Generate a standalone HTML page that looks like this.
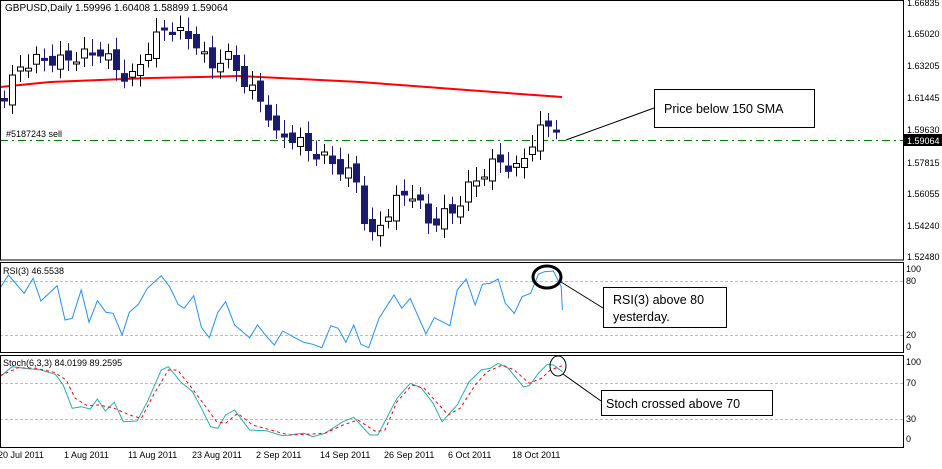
<!DOCTYPE html>
<html><head><meta charset="utf-8"><style>
body{margin:0;background:#fff;width:942px;height:464px;overflow:hidden;font-family:"Liberation Sans",sans-serif}
svg text{font-family:"Liberation Sans",sans-serif}
</style></head><body>
<svg id="s" width="942" height="464" xmlns="http://www.w3.org/2000/svg" font-size="9">
<rect x="0" y="0" width="942" height="464" fill="#fff"/>
<line x1="0" y1="140.5" x2="903" y2="140.5" stroke="#008000" stroke-dasharray="8,4,2,4"/>
<line x1="0" y1="281.5" x2="903" y2="281.5" stroke="#bbb" stroke-dasharray="3,2"/>
<line x1="0" y1="335.5" x2="903" y2="335.5" stroke="#bbb" stroke-dasharray="3,2"/>
<line x1="0" y1="383.5" x2="903" y2="383.5" stroke="#bbb" stroke-dasharray="3,2"/>
<line x1="0" y1="419.5" x2="903" y2="419.5" stroke="#bbb" stroke-dasharray="3,2"/>
<g id="g"></g>
<rect x="0.5" y="0.5" width="903" height="259.5" fill="none" stroke="#000"/>
<rect x="0.5" y="262.5" width="903" height="90" fill="none" stroke="#000"/>
<rect x="0.5" y="355.5" width="903" height="92" fill="none" stroke="#000"/>
<text x="5" y="11" font-size="10">GBPUSD,Daily  1.59996 1.60408 1.58899 1.59064</text>
<text x="6" y="137">#5187243 sell</text>
<text x="3" y="274">RSI(3) 46.5538</text>
<text x="3" y="366">Stoch(6,3,3) 84.0199 89.2595</text>
<g font-size="9">
<text x="907" y="6">1.66835</text><text x="907" y="37">1.65020</text><text x="907" y="69">1.63205</text>
<text x="907" y="101">1.61445</text><text x="907" y="133">1.59630</text>
<rect x="904" y="134" width="38" height="12" fill="#000"/><text x="907" y="144" fill="#fff">1.59064</text>
<text x="907" y="166">1.57815</text><text x="907" y="197">1.56055</text><text x="907" y="229">1.54240</text><text x="907" y="260">1.52480</text>
<text x="906" y="272">100</text><text x="906" y="284">80</text><text x="906" y="338">20</text><text x="906" y="350">0</text>
<text x="906" y="365">100</text><text x="906" y="386">70</text><text x="906" y="422">30</text><text x="906" y="442">0</text>
</g>
<g font-size="9">
<text x="-2" y="458">20 Jul 2011</text><text x="64" y="458">1 Aug 2011</text><text x="128" y="458">11 Aug 2011</text>
<text x="192" y="458">23 Aug 2011</text><text x="256" y="458">2 Sep 2011</text><text x="320" y="458">14 Sep 2011</text>
<text x="384" y="458">26 Sep 2011</text><text x="448" y="458">6 Oct 2011</text><text x="512" y="458">18 Oct 2011</text>
</g>
<line x1="566" y1="140" x2="654" y2="108" stroke="#000"/>
<rect x="654.5" y="89.5" width="160" height="38" fill="#fff" stroke="#000"/>
<text x="664" y="113" font-size="12.5">Price below 150 SMA</text>
<ellipse cx="547" cy="277" rx="14" ry="11" fill="none" stroke="#000" stroke-width="3"/>
<line x1="561" y1="282" x2="603" y2="308" stroke="#000"/>
<rect x="603.5" y="287.5" width="123" height="40" fill="#fff" stroke="#000"/>
<text x="613" y="304" font-size="12.5">RSI(3) above 80</text>
<text x="613" y="321" font-size="12.5">yesterday.</text>
<ellipse cx="558" cy="366" rx="8" ry="10" fill="none" stroke="#000"/>
<line x1="563" y1="374" x2="601" y2="401" stroke="#000"/>
<rect x="601.5" y="390.5" width="171" height="25" fill="#fff" stroke="#000"/>
<text x="606" y="408" font-size="12.5">Stoch crossed above 70</text>
</svg>
<script>
(function(){
var g=document.getElementById('g'),NS='http://www.w3.org/2000/svg';
function el(t,a){var e=document.createElementNS(NS,t);for(var k in a)e.setAttribute(k,a[k]);g.appendChild(e);return e;}
el('polyline',{points:'0,87 50,82 100,80 150,78 200,77 240,76 280,78 320,80 360,82 400,85 440,88 480,91 520,94 562,97',fill:'none',stroke:'#f00','stroke-width':2});
var kp=[[4,95],[20,65],[40,58],[60,60],[100,50],[120,72],[130,80],[150,45],[165,25],[185,35],[195,40],[210,68],[225,52],[245,82],[265,105],[275,135],[290,135],[310,150],[330,160],[345,172],[355,175],[362,210],[370,240],[385,215],[400,195],[410,190],[420,205],[430,225],[440,215],[455,210],[465,190],[475,180],[490,165],[500,160],[515,170],[525,155],[535,135],[545,125],[555,122],[562,140]];
function interp(x){for(var i=1;i<kp.length;i++){if(x<=kp[i][0]){var a=kp[i-1],b=kp[i];return a[1]+(b[1]-a[1])*(x-a[0])/(b[0]-a[0]);}}return kp[kp.length-1][1];}
var prev=interp(0);
for(var x=4;x<=563;x+=8){
 var n=Math.floor(x/8);
 var c=interp(x)+(n%3==0?6:(n%3==1?-5:2));
 var o=prev+(n%2?4:-4);
 var t1=Math.min(o,c),b1=Math.max(o,c);if(b1-t1<2)b1=t1+2;
 var bear=c>o;
 var col=bear?'#1a1a6e':'#000';
 el('line',{x1:x+.5,y1:t1-8-(n%4)*2,x2:x+.5,y2:b1+7+(n%3)*2,stroke:col});
 el('rect',{x:x-3+.5,y:t1,width:6,height:b1-t1,fill:bear?'#1a1a6e':'#fff',stroke:col});
 prev=c;
}
var sx=942/1566;
function pl(pts,attrs){attrs.points=pts.map(function(p){return (p[0]*sx).toFixed(1)+','+(255+p[1]/3).toFixed(1)}).join(' ');attrs.fill='none';el('polyline',attrs);}
pl([[0,100],[14,60],[40,115],[55,70],[68,138],[95,92],[108,195],[120,190],[135,105],[148,202],[162,137],[176,172],[188,175],[203,240],[215,172],[230,148],[245,100],[268,62],[282,95],[296,148],[306,160],[322,122],[335,218],[348,248],[362,172],[375,140],[390,210],[415,248],[428,210],[442,242],[456,270],[470,228],[490,248],[505,262],[520,268],[535,278],[550,212],[562,220],[575,262],[588,210],[600,268],[613,278],[630,190],[655,120],[668,160],[682,130],[708,237],[722,188],[735,200],[748,212],[760,105],[775,72],[790,150],[802,88],[815,85],[828,72],[840,145],[855,175],[868,125],[882,115],[895,58],[905,50],[920,48],[933,95],[935,165]],{stroke:'#1e90ff'});
var K=[[0,365],[20,335],[40,340],[68,345],[92,358],[105,390],[120,460],[135,455],[150,462],[162,432],[175,468],[190,442],[205,500],[228,498],[245,440],[268,345],[280,335],[300,380],[320,410],[335,460],[350,515],[362,520],[375,480],[390,465],[415,525],[442,527],[470,542],[490,538],[505,535],[520,545],[540,535],[570,500],[588,487],[615,540],[628,540],[660,430],[682,385],[700,398],[720,445],[735,500],[760,450],[780,380],[800,345],[815,340],[828,325],[845,340],[870,395],[880,392],[895,355],[910,328],[920,330],[935,350]];
var D=[[0,362],[30,338],[60,340],[90,352],[110,375],[125,430],[145,452],[165,450],[190,460],[215,480],[235,490],[255,420],[280,345],[295,345],[315,390],[340,450],[360,500],[375,505],[395,475],[420,510],[450,525],[480,540],[510,538],[540,535],[570,510],[595,495],[625,530],[640,525],[660,440],[685,390],[705,400],[725,440],[745,480],[765,460],[790,390],[810,350],[835,330],[855,345],[880,385],[900,370],[915,345],[935,332]];
pl(K,{stroke:'#20b2aa'});
pl(D,{stroke:'#f00','stroke-dasharray':'3,3'});
})();
</script>
</body></html>
